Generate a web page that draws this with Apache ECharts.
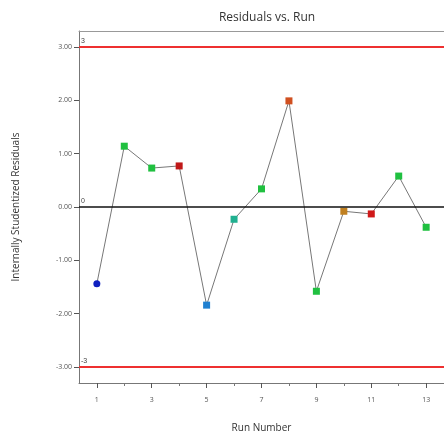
<!DOCTYPE html>
<html><head><meta charset="utf-8">
<script src="https://cdn.jsdelivr.net/npm/echarts@6/dist/echarts.min.js"></script>
<style>html,body{margin:0;padding:0;background:#fff}#c{width:444px;height:442px}</style>
</head><body><div id="c"></div>
<script>
var runs = [1,2,3,4,5,6,7,8,9,10,11,12,13];
var residuals = [-1.44,1.14,0.73,0.77,-1.84,-0.23,0.34,1.99,-1.58,-0.08,-0.13,0.58,-0.38];
var pointColors = ['#1020c0','#20c040','#20c040','#c01818','#2080d0','#20b090','#20c040','#d05020','#20c040','#c08020','#d01818','#20c040','#20c040'];
var xMajor = [1,3,5,7,9,11,13];
var xMinor = [2,4,6,8,10,12];
var yTicks = [-3,-2,-1,0,1,2,3];
var limits = [3,0,-3];

var chart = echarts.init(document.getElementById('c'));
var data = runs.map(function(r,i){
  return {value:[r,residuals[i]], symbol: i===0?'circle':'rect', itemStyle:{color:pointColors[i]}};
});
chart.setOption({
  animation:false,
  title:{text:'Residuals vs. Run', left:262, top:7, textAlign:'center',
    textStyle:{fontFamily:'Open Sans', fontSize:12, fontWeight:'normal', color:'#333'}},
  grid:{left:79, top:31, right:0, bottom:59},
  xAxis:[{
    type:'value', min:0.35, max:13.65,
    name:'Run Number', nameLocation:'middle', nameGap:40,
    nameTextStyle:{fontFamily:'Open Sans', fontSize:10, color:'#333'},
    axisLine:{show:true, onZero:false, lineStyle:{color:'#777', width:1}},
    axisTick:{show:true, length:5, customValues:xMajor, lineStyle:{color:'#555'}},
    axisLabel:{customValues:xMajor, fontSize:7, color:'#555', margin:13, fontFamily:'Open Sans'},
    splitLine:{show:false}
  },{
    type:'value', min:0.35, max:13.65, position:'bottom',
    axisLine:{show:false, onZero:false},
    axisTick:{show:true, length:3, customValues:xMinor, lineStyle:{color:'#777'}},
    axisLabel:{show:false}, splitLine:{show:false}
  },{
    type:'value', min:0.35, max:13.65, position:'top',
    axisLine:{show:true, onZero:false, lineStyle:{color:'#999'}},
    axisTick:{show:false}, axisLabel:{show:false}, splitLine:{show:false}
  }],
  yAxis:[{
    type:'value', min:-3.3, max:3.3,
    name:'Internally Studentized Residuals', nameLocation:'middle', nameGap:58,
    nameTextStyle:{fontFamily:'Open Sans', fontSize:10, color:'#333'},
    axisLine:{show:true, onZero:false, lineStyle:{color:'#777'}},
    axisTick:{show:true, length:5, customValues:yTicks, lineStyle:{color:'#555'}},
    axisLabel:{customValues:yTicks, fontSize:7, color:'#555', margin:7, fontFamily:'Open Sans',
      formatter:function(v){return v.toFixed(2);}},
    splitLine:{show:false}
  }],
  series:[{
    type:'line', data:data, symbolSize:7,
    lineStyle:{color:'#777', width:1},
    markLine:{
      silent:true, symbol:'none',
      data: limits.map(function(v){
        return {yAxis:v,
          lineStyle:{color: v===0?'#111':'#ee3030', width: v===0?1.5:2, type:'solid'},
          label:{show:true, position:'insideStartTop', formatter:String(v), fontSize:7, color:'#444', distance:[2,2]}};
      })
    }
  }]
});
</script></body></html>
